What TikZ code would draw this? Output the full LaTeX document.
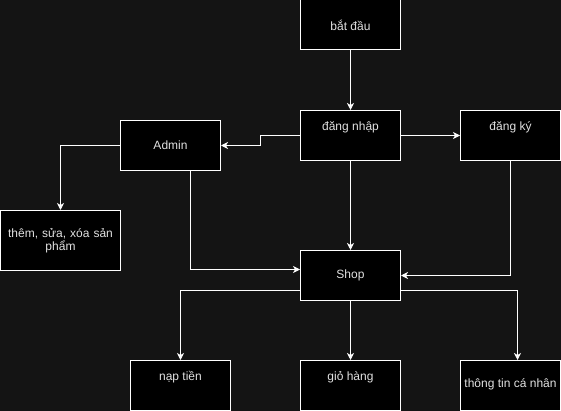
\documentclass[tikz,border=0pt]{standalone}
\usepackage{fontspec}
\setmainfont{Liberation Sans}
\usetikzlibrary{arrows.meta}
\definecolor{bgcol}{RGB}{20,20,20}
\definecolor{txtcol}{RGB}{225,225,225}
\tikzset{
  box/.style={draw=white, fill=black, line width=1pt, minimum width=100pt, minimum height=50pt, inner sep=0pt, text=txtcol, font=\fontsize{12}{14}\selectfont},
  wide/.style={minimum width=120pt, minimum height=60pt},
  txt/.style={text=txtcol, font=\fontsize{12}{14}\selectfont, inner sep=0pt},
  conn/.style={draw=white, line width=1pt, -{Stealth[length=7pt,width=7pt,inset=2pt]}}
}
\begin{document}
\begin{tikzpicture}[x=1pt,y=-1pt]
\fill[bgcol] (0,0) rectangle (561,411);
\useasboundingbox (0,0) rectangle (561,411);
\node[box] (bd) at (350.5,25) {bắt đầu};
\node[box] (dn) at (350.5,135.5) {};
\node[txt] (dnt) at (350.5,127) {đăng nhập};
\node[box] (dk) at (510.5,135.5) {};
\node[txt] (dkt) at (510.5,127) {đăng ký};
\node[box] (ad) at (170.5,145.5) {Admin};
\node[box,wide,align=center,text width=116pt] (th) at (60.5,240.5) {thêm, sửa, xóa sản\\[-1pt]phẩm};
\node[box] (sh) at (350.5,275.5) {Shop};
\node[box] (np) at (180.5,385.5) {};
\node[txt] (npt) at (180.5,377) {nạp tiền};
\node[box] (gh) at (350.5,385.5) {};
\node[txt] (ght) at (350.5,377) {giỏ hàng};
\node[box] (tt) at (510.5,385.5) {};
\node[txt] (ttt) at (510.5,384) {thông tin cá nhân};
\draw[conn] (bd) -- (dn);
\draw[conn] (dn.west) -- ++(-40,0) |- (ad.east);
\draw[conn] (dn) -- (dk);
\draw[conn] (ad.west) -| (th.north);
\draw[conn] ([xshift=20pt]ad.south) |- ([yshift=6pt]sh.west);
\draw[conn] (dn) -- (sh);
\draw[conn] (dk.south) |- (sh.east);
\draw[conn] ([yshift=-15pt]sh.west) -| (np.north);
\draw[conn] (sh) -- (gh);
\draw[conn] ([yshift=-15pt]sh.east) -| ([xshift=7pt]tt.north);
\end{tikzpicture}
\end{document}
